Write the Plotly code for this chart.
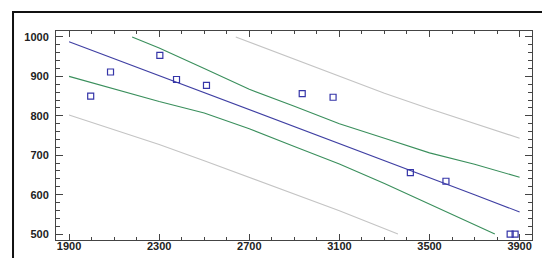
import plotly.graph_objects as go

# observed points
obs_x = [1996, 2084, 2303, 2377, 2510, 2935, 3072, 3415, 3573, 3858, 3880]
obs_y = [850, 911, 953, 892, 877, 856, 847, 656, 634, 500, 500]

# fitted line
fit_x = [1900, 2100, 2300, 2500, 2700, 2900, 3100, 3300, 3500, 3700, 3900]
fit_y = [988, 945, 902, 859, 816, 773, 729, 686, 643, 600, 556]

# confidence limits for the mean
conf_up_x = [2180, 2300, 2500, 2700, 2900, 3100, 3300, 3500, 3700, 3900]
conf_up_y = [1000, 972, 920, 867, 824, 780, 743, 706, 677, 644]
conf_lo_x = [1900, 2100, 2300, 2500, 2700, 2900, 3100, 3300, 3500, 3700, 3790]
conf_lo_y = [900, 868, 836, 807, 767, 722, 678, 628, 575, 522, 500]

# prediction limits
pred_up_x = [2640, 2700, 2900, 3100, 3300, 3500, 3700, 3900]
pred_up_y = [1000, 987, 942, 900, 857, 818, 780, 743]
pred_lo_x = [1900, 2100, 2300, 2500, 2700, 2900, 3100, 3360]
pred_lo_y = [802, 765, 727, 686, 643, 601, 559, 500]

x_ticks = [1900, 2300, 2700, 3100, 3500, 3900]
y_ticks = [500, 600, 700, 800, 900, 1000]

BLUE = "#3f3fa3"
GREEN = "#3a8f5c"
GREY = "#c4c4c4"

fig = go.Figure()
for xs, ys in [(pred_up_x, pred_up_y), (pred_lo_x, pred_lo_y)]:
    fig.add_trace(go.Scatter(x=xs, y=ys, mode="lines",
                             line=dict(color=GREY, width=1.1)))
for xs, ys in [(conf_up_x, conf_up_y), (conf_lo_x, conf_lo_y)]:
    fig.add_trace(go.Scatter(x=xs, y=ys, mode="lines",
                             line=dict(color=GREEN, width=1.1)))
fig.add_trace(go.Scatter(x=fit_x, y=fit_y, mode="lines",
                         line=dict(color=BLUE, width=1.1)))
fig.add_trace(go.Scatter(
    x=obs_x, y=obs_y, mode="markers",
    marker=dict(symbol="square-open", size=6, color="#3535a8",
                line=dict(width=1.2)),
))

axis_common = dict(
    showline=True, linecolor="#444", linewidth=1, mirror="ticks",
    ticks="inside", tickcolor="#444", showgrid=False, zeroline=False,
    tickfont=dict(family="Liberation Sans, Arial", size=11, color="#222",
                  weight="bold"),
)
fig.update_xaxes(
    range=[1842, 3955], tickvals=x_ticks, ticklen=6,
    minor=dict(ticks="inside", dtick=100, tick0=1900, ticklen=3,
               tickcolor="#444"),
    ticklabelstandoff=-4,
    **axis_common,
)
fig.update_yaxes(
    range=[485, 1015], tickvals=y_ticks, ticklen=7,
    minor=dict(ticks="inside", dtick=20, tick0=500, ticklen=4,
               tickcolor="#444"),
    ticklabelstandoff=4,
    **axis_common,
)

# outer frame
fig.add_shape(type="rect", xref="paper", yref="paper",
              x0=-0.0903, x1=1.042, y0=-0.0957, y1=1.091,
              line=dict(color="#111", width=2))

fig.update_layout(
    width=550, height=258,
    margin=dict(l=48, r=26, t=23, b=26),
    paper_bgcolor="white", plot_bgcolor="white",
    showlegend=False,
)
fig.write_html("out.html")
